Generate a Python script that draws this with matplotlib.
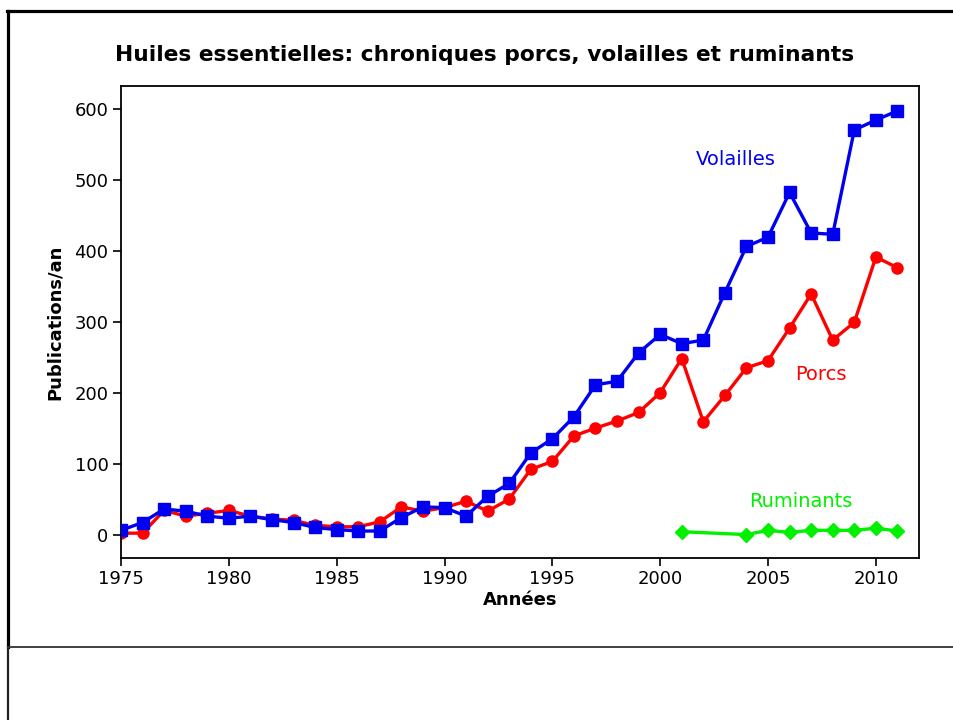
import matplotlib
matplotlib.use('Agg')
import matplotlib.pyplot as plt
from matplotlib.lines import Line2D

plt.rcParams['font.family'] = ['DejaVu Sans']

# years 1975-2011
years = list(range(1975, 2012))
volailles = [7, 18, 37, 34, 27, 24, 27, 22, 18, 11, 8, 6, 6, 25, 40, 39, 27, 55, 73,
             116, 136, 167, 212, 217, 257, 283, 270, 275, 342, 407, 420, 483, 426,
             424, 571, 585, 598]
porcs = [3, 3, 35, 27, 31, 35, 27, 23, 21, 14, 12, 12, 19, 40, 34, 39, 48, 34, 51,
         93, 104, 140, 151, 161, 173, 201, 249, 160, 197, 236, 246, 292, 340,
         275, 300, 392, 377]
rum_years = [2001, 2004, 2005, 2006, 2007, 2008, 2009, 2010, 2011]
ruminants = [5, 1, 7, 4, 7, 7, 7, 10, 6]

blue = '#0000f0'
red = '#ff0000'
green = '#00f000'

fig = plt.figure(figsize=(9.54, 7.2), dpi=100)
ax = fig.add_axes([121/954, 1-558/720, (919-121)/954, (558-86)/720])

ax.plot(years, volailles, color=blue, lw=2.4, marker='s', ms=8, zorder=3)
ax.plot(years, porcs, color=red, lw=2.4, marker='o', ms=8, zorder=2)
ax.plot(rum_years, ruminants, color=green, lw=2.4, marker='D', ms=7.5, zorder=2)

ax.set_xlim(1975, 2012)
ax.set_ylim(-32, 633)
ax.set_xticks(range(1975, 2011, 5))
ax.set_yticks(range(0, 601, 100))
ax.tick_params(direction='out', length=6, width=1.2, labelsize=13, pad=3)
for s in ax.spines.values():
    s.set_linewidth(1.3)

ax.set_xlabel('Années', fontsize=13, fontweight='bold', labelpad=2)
ax.set_ylabel('Publications/an', fontsize=13, fontweight='bold', labelpad=8)

ax.text(2003.5, 530, 'Volailles', color=blue, fontsize=14, ha='center', va='center')
ax.text(2007.45, 226, 'Porcs', color=red, fontsize=14, ha='center', va='center')
ax.text(2006.5, 47, 'Ruminants', color=green, fontsize=14, ha='center', va='center')

fig.text(485/954, 1-55/720, 'Huiles essentielles: chroniques porcs, volailles et ruminants',
         fontsize=15.7, fontweight='bold', ha='center', va='center')

# document frame lines
fig.add_artist(Line2D([7/954, 1], [1-11/720, 1-11/720], color='black', lw=2.3))
fig.add_artist(Line2D([8/954, 8/954], [1-11/720, 1-647/720], color='black', lw=2.3))
fig.add_artist(Line2D([8/954, 8/954], [1-647/720, 0], color='#222222', lw=1.6))
fig.add_artist(Line2D([8/954, 1], [1-647/720, 1-647/720], color='#333333', lw=1.3))

fig.savefig('out.png', dpi=100)
